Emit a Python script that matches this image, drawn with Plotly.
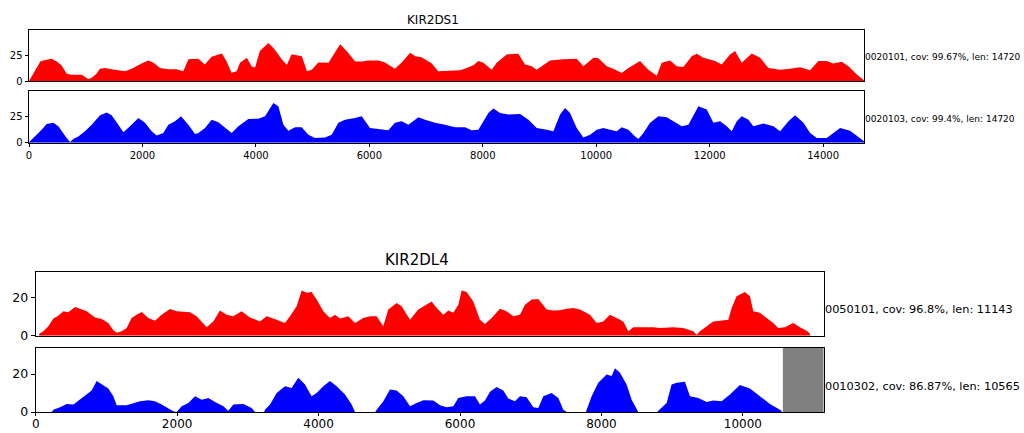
import plotly.graph_objects as go

# ---------------- data ----------------
# KIR2DS1, allele 0020101 (red)
ds1_red_pos = [0, 100, 200, 250, 340, 400, 490, 575, 665, 750, 930, 960, 1045, 1100, 1190, 1250, 1340, 1460, 1575, 1690,
               1810, 1870, 1985, 2100, 2190, 2310, 2455, 2600, 2720, 2810, 2985, 3100, 3220, 3400, 3485, 3570, 3660, 3720,
               3840, 3925, 3985, 4070, 4220, 4310, 4455, 4545, 4630, 4810, 4900, 4985, 5100, 5280, 5395, 5485, 5600, 5750,
               5865, 5980, 6160, 6275, 6450, 6570, 6720, 6810, 6920, 7100, 7215, 7335, 7510, 7600, 7716, 7834, 7922, 8010,
               8157, 8245, 8421, 8627, 8745, 8862, 8950, 9185, 9420, 9656, 9773, 9950, 10038, 10185, 10302, 10449, 10567,
               10772, 10919, 11066, 11154, 11301, 11419, 11536, 11683, 11771, 11889, 11977, 12095, 12212, 12359, 12447,
               12565, 12741, 12888, 13035, 13241, 13417, 13593, 13770, 13916, 14063, 14181, 14328, 14445, 14593, 14720]
ds1_red_cov = [0, 9.5, 19, 20, 21, 21.5, 19, 15, 7, 6, 6, 5, 2, 3, 7, 12, 12.5, 11.5, 10.5, 9.5,
               12, 14, 17, 20, 18, 12.5, 11.5, 11.5, 9.5, 21, 21.5, 16, 23.5, 26.8, 19, 8, 9.5, 17.6,
               22.5, 14, 13, 29, 37, 32, 21, 15.5, 26, 24, 9.5, 11, 18, 17.6, 28.5, 35.6, 29, 19,
               19, 20, 20, 18, 12, 18, 27.5, 24, 23, 17, 9.5, 10, 10, 10.5, 12.7, 15.4, 19.3, 17.6,
               11, 17.6, 25.8, 26.5, 16, 14.4, 11, 20, 21, 21.6, 14.4, 22.5, 22, 14.4, 12, 7.8, 12.7,
               19.3, 11, 5.2, 17.6, 20, 14.4, 13.7, 24, 26.5, 22.5, 21, 19.3, 16, 25.8, 29,
               17.6, 26.8, 22.5, 12.7, 11, 11.8, 13.4, 10.5, 19.3, 19.3, 17, 18.6, 14.4, 6.2, 0.7]

# KIR2DS1, allele 0020103 (blue)
ds1_blue_pos = [0, 106, 223, 311, 429, 517, 605, 664, 723, 781, 870, 987, 1105, 1252, 1369, 1457, 1575, 1663, 1781, 1928,
                2045, 2163, 2251, 2368, 2457, 2574, 2680, 2809, 2927, 2985, 3103, 3220, 3338, 3456, 3573, 3691, 3867,
                4043, 4161, 4308, 4396, 4484, 4572, 4690, 4807, 4925, 5042, 5219, 5336, 5454, 5571, 5748, 5865, 6012,
                6159, 6335, 6452, 6570, 6688, 6864, 6982, 7158, 7335, 7511, 7687, 7804, 7922, 8010, 8098, 8186, 8304,
                8451, 8657, 8804, 8950, 9127, 9244, 9362, 9450, 9538, 9656, 9773, 9891, 10008, 10126, 10243, 10361,
                10449, 10567, 10684, 10743, 10831, 10949, 11096, 11243, 11360, 11507, 11624, 11713, 11801, 11948,
                12065, 12183, 12300, 12388, 12477, 12565, 12683, 12770, 12947, 13123, 13241, 13388, 13505, 13652,
                13770, 13887, 14063, 14181, 14298, 14475, 14652, 14720]
ds1_blue_cov = [0.5, 6, 12.5, 18, 19, 15.7, 8.3, 4.5, 0.6, 3.5, 6, 11, 17.3, 26.3, 29, 26.3, 17.3, 10, 15.7, 23.7,
                19, 11, 7, 9.3, 17.3, 20.5, 25.3, 17.3, 8.3, 9.3, 14, 22, 19.6, 14.7, 9.3, 15.7, 22.8,
                23, 25.3, 38, 35, 17.3, 11.5, 14.7, 14.7, 7.7, 4.5, 5, 7.7, 19, 22, 23.7, 25.3, 14,
                13, 11.9, 19, 20.5, 17.3, 24.4, 22, 19, 17.3, 14.7, 14.7, 11.9, 12.5, 20.5, 28.5, 32.7, 28.5,
                27, 27.5, 22, 14, 12.5, 11, 27, 33.3, 28.5, 14, 5, 7.7, 12.5, 14, 12.5, 11,
                14.7, 12.5, 6, 3.5, 9.3, 19, 25.3, 24.4, 20.5, 15.7, 17.3, 27, 35, 31.7,
                19, 20.5, 15.7, 11, 20.5, 25.3, 22, 15.7, 18.3, 15.7, 11, 20.5, 26.3, 19,
                9.3, 4.5, 4.5, 9.3, 14, 11.5, 4.5, 1.3]

# KIR2DL4, allele 0050101 (red)
dl4_red_pos = [50, 108, 179, 249, 320, 391, 461, 556, 626, 721, 838, 933, 1027, 1098, 1145, 1216, 1286, 1356, 1428, 1499,
               1592, 1687, 1781, 1899, 1993, 2088, 2182, 2276, 2347, 2418, 2511, 2606, 2700, 2794, 2912, 3030, 3171,
               3266, 3407, 3525, 3596, 3690, 3761, 3832, 3902, 3973, 4067, 4161, 4232, 4303, 4421, 4515, 4633, 4727,
               4821, 4915, 4986, 5104, 5175, 5293, 5410, 5528, 5599, 5670, 5764, 5835, 5905, 5976, 6023, 6094, 6188,
               6282, 6353, 6447, 6565, 6659, 6754, 6848, 6919, 7013, 7107, 7225, 7319, 7413, 7508, 7602, 7696, 7838,
               7932, 8026, 8120, 8214, 8309, 8380, 8450, 8733, 8827, 9016, 9157, 9299, 9346, 9393, 9487, 9581, 9676,
               9794, 9841, 9911, 10029, 10100, 10147, 10241, 10336, 10430, 10500, 10595, 10713, 10807, 10901, 10948]
dl4_red_cov = [1, 2.3, 5, 9, 10.5, 12.8, 12.3, 15, 14.2, 12.8, 9.6, 8.8, 6.7, 2.8, 1.6, 2.3, 4, 9.3, 11, 12.5,
               9.3, 7.9, 11, 14, 12.8, 12.5, 12.3, 10.2, 7.5, 4.4, 7.5, 13.2, 11, 10.2, 12.8, 9.6, 7.5,
               10.2, 8.4, 6.7, 10.2, 15.4, 23.7, 22.5, 23, 19, 12.8, 9.3, 11, 9, 10.2, 6.7, 9.3, 10.2,
               10.2, 4.9, 13.7, 17.2, 15.4, 8.4, 13.7, 16.3, 18, 14.6, 11, 13.2, 12, 16.3, 23.7, 23, 18,
               8.4, 6.1, 9.3, 14.2, 12.8, 10.2, 11, 16.3, 19, 19.3, 13.7, 13.2, 13.3, 14.2, 14.6, 13.7, 11,
               6.7, 7.5, 11, 9.3, 7.5, 2.3, 4.4, 4.4, 4, 4.4, 4, 2.3, 0.5, 2.3, 4.9, 7.5, 7.9,
               8.4, 14.6, 20.7, 23, 20.7, 12.8, 12, 9.3, 6.7, 4, 4.4, 6.7, 4.4, 2.6, 1.2]

# KIR2DL4, allele 0010302 (blue)
dl4_blue_pos = [226, 250, 344, 438, 533, 627, 721, 791, 862, 933, 1027, 1098, 1145, 1286, 1380, 1475, 1592, 1687, 1781,
                1875, 1946, 1993, 2064, 2158, 2253, 2347, 2441, 2536, 2654, 2724, 2795, 2936, 3054, 3101, 3230, 3242,
                3313, 3408, 3525, 3619, 3713, 3808, 3902, 3973, 4067, 4161, 4256, 4374, 4468, 4515, 4800, 4822, 4916,
                5010, 5104, 5199, 5293, 5388, 5482, 5623, 5717, 5811, 5905, 5976, 6094, 6212, 6282, 6353, 6424, 6518,
                6612, 6683, 6777, 6848, 6942, 7037, 7107, 7178, 7296, 7390, 7461, 7508, 7780, 7791, 7861, 7955, 8073,
                8144, 8191, 8262, 8356, 8427, 8498, 8521, 8790, 8804, 8922, 8992, 9063, 9181, 9252, 9369, 9487, 9581,
                9699, 9817, 9958, 10100, 10241, 10383, 10547]
dl4_blue_cov = [0, 1.2, 2.5, 4.2, 3.9, 6.5, 9.2, 11.3, 16.3, 14.5, 12.4, 8.3, 3.5, 3.5, 4.8, 5.7, 6.2, 5.7, 3.9,
                2.1, 0.4, 0, 3, 4.8, 8.3, 6.5, 7.4, 5.3, 3, 0.7, 3.9, 4.2, 2.1, 0, 0, 1.2,
                3.9, 10, 13.6, 12.7, 18, 14.5, 8.3, 10, 13.6, 16.3, 13.6, 9.2, 3.9, 0, 0, 1.2, 5.7,
                11.9, 11.3, 8.3, 3, 4.8, 6.2, 6, 3.5, 2.5, 3, 7.4, 8.3, 8.3, 3.9, 6, 10.6, 13.1,
                11.3, 7.1, 5.7, 8.3, 7.8, 2.5, 2.1, 8.3, 10, 7.4, 1.2, 0, 0, 1.2, 8.3, 15.4, 19.8,
                18.9, 23, 20.7, 14.5, 6.5, 1.2, 0, 0, 0.7, 4.8, 14.5, 15.4, 15.9, 8.3, 7.4, 5.3, 6,
                5.7, 9.2, 14.2, 12.4, 8.3, 4.2, 0.7]

ds1_title = "KIR2DS1"
dl4_title = "KIR2DL4"
ds1_len = 14720
dl4_len = 11143
dl4_blue_len = 10565
ds1_labels = ["0020101, cov: 99.67%, len: 14720", "0020103, cov: 99.4%, len: 14720"]
dl4_labels = ["0050101, cov: 96.8%, len: 11143", "0010302, cov: 86.87%, len: 10565"]
ds1_xticks = [0, 2000, 4000, 6000, 8000, 10000, 12000, 14000]
dl4_xticks = [0, 2000, 4000, 6000, 8000, 10000]
ds1_yticks = [0, 25]
dl4_yticks = [0, 20]

# ---------------- figure ----------------
W, H = 1024, 433
FONT = "DejaVu Sans"


def fx(p):
    return p / W


def fy(p):
    return 1 - p / H


fig = go.Figure()

series = [
    (ds1_red_pos, ds1_red_cov, "#ff0000", "x", "y"),
    (ds1_blue_pos, ds1_blue_cov, "#0000ff", "x2", "y2"),
    (dl4_red_pos, dl4_red_cov, "#ff0000", "x3", "y3"),
    (dl4_blue_pos, dl4_blue_cov, "#0000ff", "x4", "y4"),
]
for xs, ys, col, xa, ya in series:
    fig.add_trace(go.Scatter(x=xs, y=ys, mode="lines", fill="tozeroy", fillcolor=col,
                             line=dict(color=col, width=0), xaxis=xa, yaxis=ya,
                             hoverinfo="skip", showlegend=False))

frame = dict(showline=True, mirror=True, linecolor="#000000", linewidth=1, automargin=False,
             showgrid=False, zeroline=False, tickcolor="#000000", tickformat="d")

top_x = [fx(29), fx(864)]
bot_x = [fx(35.7), fx(823.7)]

fig.update_layout(
    template="none",
    width=W, height=H, autosize=False,
    margin=dict(l=0, r=0, t=0, b=0, pad=0),
    paper_bgcolor="white", plot_bgcolor="white",
    font=dict(family=FONT, color="#000000"),
    showlegend=False,
    xaxis=dict(domain=top_x, anchor="y", range=[0, ds1_len], showticklabels=False, ticks="", **frame),
    yaxis=dict(domain=[fy(81), fy(30)], anchor="x", range=[0, 49.5], tickvals=ds1_yticks,
               ticks="outside", ticklen=3.5, tickfont=dict(size=10, color="#000"), **frame),
    xaxis2=dict(domain=top_x, anchor="y2", range=[0, ds1_len], tickvals=ds1_xticks,
                ticks="outside", ticklen=3.5, tickfont=dict(size=10, color="#000"), **frame),
    yaxis2=dict(domain=[fy(142.7), fy(91)], anchor="x2", range=[0, 49.5], tickvals=ds1_yticks,
                ticks="outside", ticklen=3.5, tickfont=dict(size=10, color="#000"), **frame),
    xaxis3=dict(domain=bot_x, anchor="y3", range=[0, dl4_len], showticklabels=False, ticks="", **frame),
    yaxis3=dict(domain=[fy(335.7), fy(271.5)], anchor="x3", range=[0, 33.7], tickvals=dl4_yticks,
                ticks="outside", ticklen=4, tickfont=dict(size=12.5, color="#000"), **frame),
    xaxis4=dict(domain=bot_x, anchor="y4", range=[0, dl4_len], tickvals=dl4_xticks,
                ticks="outside", ticklen=3, ticklabelstandoff=-2,
                tickfont=dict(size=12, color="#000"), **frame),
    yaxis4=dict(domain=[fy(412), fy(348)], anchor="x4", range=[0, 33.7], tickvals=dl4_yticks,
                ticks="outside", ticklen=4, tickfont=dict(size=12.5, color="#000"), **frame),
)

# grey block: region beyond the blue allele length
fig.add_shape(type="rect", xref="x4", yref="y4 domain", x0=dl4_blue_len, x1=dl4_len, y0=0, y1=1,
              fillcolor="#808080", line=dict(width=0), layer="above")

ann = []
ann.append(dict(text=ds1_title, x=fx(433), y=fy(20.5), font=dict(size=12), xanchor="center"))
ann.append(dict(text=dl4_title, x=fx(417), y=fy(260), font=dict(size=15), xanchor="center"))
ann.append(dict(text=ds1_labels[0], x=fx(864), y=fy(57), font=dict(size=9), xanchor="left"))
ann.append(dict(text=ds1_labels[1], x=fx(864), y=fy(119), font=dict(size=9), xanchor="left"))
ann.append(dict(text=dl4_labels[0], x=fx(824), y=fy(309), font=dict(size=11.3), xanchor="left"))
ann.append(dict(text=dl4_labels[1], x=fx(824), y=fy(386), font=dict(size=11.3), xanchor="left"))
for a in ann:
    a.update(xref="paper", yref="paper", yanchor="middle", showarrow=False, borderpad=0)
    a["font"].update(family=FONT, color="#000000")
    fig.add_annotation(**a)

fig.write_html("out.html", config={"displayModeBar": False},
               post_script="document.body.style.margin='0';")
